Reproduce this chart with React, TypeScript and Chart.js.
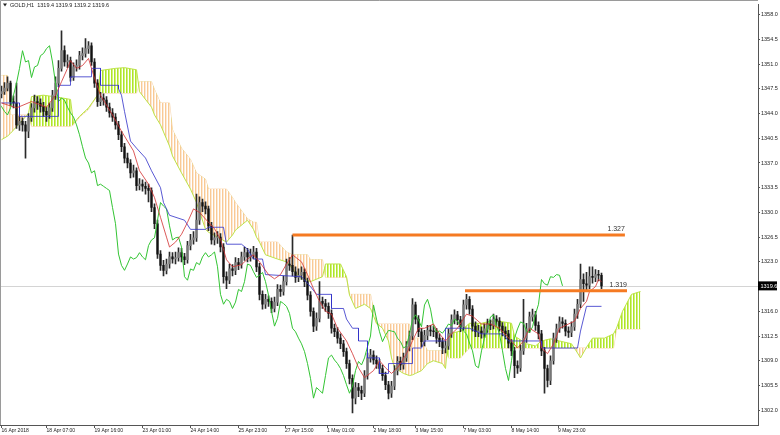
import React, { useEffect, useRef } from 'react';
import { Chart, registerables } from 'chart.js';

Chart.register(...registerables);

// ---- Candles (each candle = 2 H1 bars) ----
const opens = [
  1346.8, 1347.1, 1347.6, 1348.3, 1345.7, 1345.5, 1342.4, 1342.9, 1342.4, 1341.5,
  1343.4, 1344.8, 1345.7, 1345.5, 1345.0, 1344.3, 1343.8, 1344.8, 1346.6, 1348.3,
  1350.4, 1352.9, 1351.3, 1351.5, 1349.1, 1350.6, 1350.8, 1352.2, 1352.5, 1353.2,
  1353.6, 1351.3, 1348.3, 1345.7, 1346.2, 1345.9, 1344.9, 1344.1, 1343.5, 1342.4,
  1341.0, 1339.3, 1337.7, 1337.0, 1335.6, 1335.9, 1333.8, 1334.0, 1333.7, 1333.4,
  1333.1, 1330.7, 1328.4, 1324.1, 1322.5, 1321.8, 1322.7, 1323.7, 1323.4, 1323.6,
  1324.3, 1323.7, 1323.3, 1325.3, 1326.1, 1326.4, 1328.9, 1331.4, 1330.9, 1330.5,
  1328.1, 1326.1, 1326.4, 1326.5, 1325.1, 1320.9, 1320.4, 1322.0, 1321.8, 1322.9,
  1322.6, 1323.7, 1324.3, 1323.7, 1324.0, 1324.4, 1322.3, 1318.4, 1317.0, 1317.7,
  1317.4, 1316.4, 1317.3, 1319.1, 1318.8, 1320.2, 1322.7, 1322.5, 1321.6, 1320.8,
  1321.1, 1321.5, 1320.2, 1318.3, 1316.0, 1313.9, 1315.0, 1317.4, 1317.1, 1316.7,
  1315.7, 1313.6, 1313.1, 1312.2, 1311.4, 1310.3, 1308.6, 1306.5, 1303.7, 1305.2,
  1304.8, 1304.4, 1306.9, 1309.4, 1309.8, 1309.1, 1308.6, 1307.9, 1306.9, 1305.6,
  1304.4, 1305.4, 1307.6, 1308.9, 1308.4, 1309.4, 1311.0, 1312.5, 1316.9, 1314.9,
  1313.1, 1311.7, 1312.6, 1313.3, 1313.2, 1313.1, 1312.2, 1311.7, 1310.8, 1311.1,
  1312.8, 1314.8, 1315.5, 1314.8, 1313.8, 1316.9, 1317.7, 1316.3, 1313.9, 1313.1,
  1313.2, 1312.9, 1313.5, 1314.2, 1314.0, 1314.9, 1314.6, 1313.9, 1313.2, 1312.8,
  1311.5, 1310.4, 1308.3, 1308.0, 1310.4, 1312.2, 1313.5, 1315.2, 1315.5, 1314.0,
  1312.8, 1310.4, 1307.9, 1306.2, 1309.0, 1312.2, 1313.5, 1314.5, 1314.3, 1313.2,
  1313.0, 1313.8, 1315.6, 1317.0, 1320.5, 1319.9, 1319.7, 1320.9, 1320.8, 1321.2,
  1321.1,
];
const highs = [
  1347.9, 1348.4, 1349.2, 1348.6, 1346.5, 1348.3, 1343.6, 1343.4, 1342.9, 1344.0,
  1345.4, 1346.6, 1346.4, 1346.1, 1345.6, 1344.9, 1345.5, 1347.3, 1349.2, 1351.5,
  1355.7, 1353.6, 1352.3, 1352.0, 1351.2, 1351.6, 1352.8, 1353.3, 1354.6, 1354.2,
  1354.0, 1351.8, 1348.8, 1347.0, 1346.8, 1346.4, 1345.5, 1344.7, 1344.0, 1342.9,
  1341.5, 1339.8, 1338.4, 1337.5, 1336.7, 1336.3, 1334.8, 1334.6, 1334.3, 1334.0,
  1333.5, 1331.2, 1328.9, 1324.6, 1323.2, 1323.4, 1324.4, 1324.3, 1324.4, 1325.0,
  1324.9, 1324.2, 1325.9, 1326.9, 1327.3, 1332.6, 1332.2, 1331.9, 1331.5, 1330.9,
  1328.6, 1327.1, 1327.3, 1327.0, 1325.6, 1321.6, 1322.7, 1322.6, 1323.6, 1323.5,
  1324.4, 1325.1, 1324.9, 1324.8, 1325.2, 1324.9, 1322.8, 1318.9, 1318.4, 1318.2,
  1317.9, 1318.0, 1319.8, 1319.7, 1321.0, 1323.4, 1323.6, 1326.8, 1322.3, 1322.0,
  1322.3, 1322.0, 1320.7, 1318.8, 1316.5, 1315.8, 1320.2, 1318.0, 1317.7, 1317.2,
  1316.2, 1314.2, 1313.7, 1312.8, 1311.9, 1310.8, 1309.1, 1307.0, 1305.9, 1305.8,
  1305.4, 1307.6, 1310.1, 1310.6, 1310.4, 1309.7, 1309.2, 1308.4, 1307.4, 1306.1,
  1306.1, 1308.3, 1309.6, 1309.5, 1310.1, 1311.7, 1313.2, 1317.8, 1317.3, 1315.4,
  1313.6, 1313.3, 1314.0, 1314.0, 1313.9, 1313.6, 1312.8, 1312.2, 1311.8, 1313.5,
  1315.5, 1316.2, 1316.0, 1315.3, 1317.6, 1318.4, 1318.1, 1316.8, 1314.5, 1314.0,
  1313.8, 1314.2, 1314.9, 1314.8, 1315.6, 1315.4, 1315.1, 1314.4, 1313.8, 1313.3,
  1312.0, 1310.9, 1309.0, 1311.2, 1317.7, 1314.3, 1315.9, 1316.3, 1316.0, 1314.5,
  1313.3, 1310.9, 1308.4, 1309.7, 1312.9, 1314.2, 1315.2, 1315.1, 1314.8, 1313.8,
  1314.5, 1316.3, 1317.7, 1322.7, 1321.3, 1321.5, 1322.3, 1322.3, 1321.9, 1321.8,
  1321.4,
];
const lows = [
  1346.2, 1346.7, 1347.2, 1345.1, 1344.8, 1341.9, 1341.6, 1341.5, 1337.7, 1340.6,
  1342.9, 1344.2, 1344.6, 1344.2, 1343.6, 1342.9, 1343.3, 1344.3, 1346.0, 1347.8,
  1350.0, 1350.7, 1350.5, 1348.6, 1348.7, 1350.0, 1350.3, 1351.6, 1352.0, 1352.5,
  1350.8, 1347.7, 1345.0, 1345.1, 1345.2, 1344.3, 1343.5, 1342.9, 1341.8, 1340.3,
  1338.6, 1337.0, 1336.3, 1334.9, 1335.0, 1333.1, 1333.2, 1333.0, 1332.6, 1331.5,
  1330.1, 1327.7, 1323.5, 1321.8, 1321.0, 1321.3, 1322.1, 1322.8, 1322.7, 1323.1,
  1323.0, 1322.6, 1322.8, 1324.7, 1325.5, 1325.9, 1328.3, 1330.1, 1329.8, 1327.4,
  1325.5, 1325.4, 1325.6, 1324.4, 1320.0, 1319.2, 1319.9, 1321.0, 1321.2, 1321.9,
  1322.1, 1323.2, 1323.0, 1323.1, 1323.4, 1321.6, 1317.6, 1316.3, 1316.4, 1316.7,
  1315.8, 1315.9, 1316.8, 1318.1, 1318.3, 1319.7, 1321.8, 1321.0, 1320.1, 1320.2,
  1320.5, 1319.5, 1317.6, 1315.3, 1313.1, 1313.3, 1314.5, 1316.4, 1316.0, 1315.0,
  1312.9, 1312.4, 1311.5, 1310.7, 1309.6, 1307.9, 1305.7, 1301.6, 1302.9, 1303.9,
  1303.5, 1303.9, 1306.4, 1308.8, 1308.5, 1307.9, 1307.2, 1306.2, 1304.9, 1303.6,
  1303.8, 1304.9, 1307.0, 1307.7, 1307.8, 1308.9, 1310.4, 1312.0, 1314.2, 1312.4,
  1311.0, 1311.1, 1312.0, 1312.5, 1312.4, 1311.5, 1311.0, 1310.0, 1310.1, 1310.6,
  1312.3, 1314.2, 1314.1, 1313.1, 1313.3, 1316.3, 1315.6, 1313.2, 1312.4, 1312.4,
  1312.2, 1312.3, 1313.0, 1313.4, 1313.5, 1314.0, 1313.2, 1312.5, 1312.1, 1310.8,
  1309.7, 1306.6, 1307.2, 1307.5, 1309.9, 1311.6, 1313.0, 1314.6, 1313.3, 1312.1,
  1309.7, 1304.4, 1305.3, 1305.6, 1308.5, 1311.6, 1313.0, 1313.6, 1312.5, 1312.3,
  1312.4, 1313.3, 1315.0, 1316.5, 1317.4, 1318.9, 1319.2, 1320.0, 1320.2, 1320.3,
  1319.2,
];
const closes = [
  1347.1, 1347.6, 1348.3, 1345.7, 1345.5, 1342.4, 1342.9, 1342.4, 1341.5, 1343.4,
  1344.8, 1345.7, 1345.5, 1345.0, 1344.3, 1343.8, 1344.8, 1346.6, 1348.3, 1350.4,
  1352.9, 1351.3, 1351.5, 1349.1, 1350.6, 1350.8, 1352.2, 1352.5, 1353.2, 1353.6,
  1351.3, 1348.3, 1345.7, 1346.2, 1345.9, 1344.9, 1344.1, 1343.5, 1342.4, 1341.0,
  1339.3, 1337.7, 1337.0, 1335.6, 1335.9, 1333.8, 1334.0, 1333.7, 1333.4, 1333.1,
  1330.7, 1328.4, 1324.1, 1322.5, 1321.8, 1322.7, 1323.7, 1323.4, 1323.6, 1324.3,
  1323.7, 1323.3, 1325.3, 1326.1, 1326.4, 1328.9, 1331.4, 1330.9, 1330.5, 1328.1,
  1326.1, 1326.4, 1326.5, 1325.1, 1320.9, 1320.4, 1322.0, 1321.8, 1322.9, 1322.6,
  1323.7, 1324.3, 1323.7, 1324.0, 1324.4, 1322.3, 1318.4, 1317.0, 1317.7, 1317.4,
  1316.4, 1317.3, 1319.1, 1318.8, 1320.2, 1322.7, 1322.5, 1321.6, 1320.8, 1321.1,
  1321.5, 1320.2, 1318.3, 1316.0, 1313.9, 1315.0, 1317.4, 1317.1, 1316.7, 1315.7,
  1313.6, 1313.1, 1312.2, 1311.4, 1310.3, 1308.6, 1306.5, 1303.7, 1305.2, 1304.8,
  1304.4, 1306.9, 1309.4, 1309.8, 1309.1, 1308.6, 1307.9, 1306.9, 1305.6, 1304.4,
  1305.4, 1307.6, 1308.9, 1308.4, 1309.4, 1311.0, 1312.5, 1316.9, 1314.9, 1313.1,
  1311.7, 1312.6, 1313.3, 1313.2, 1313.1, 1312.2, 1311.7, 1310.8, 1311.1, 1312.8,
  1314.8, 1315.5, 1314.8, 1313.8, 1316.9, 1317.7, 1316.3, 1313.9, 1313.1, 1313.2,
  1312.9, 1313.5, 1314.2, 1314.0, 1314.9, 1314.6, 1313.9, 1313.2, 1312.8, 1311.5,
  1310.4, 1308.3, 1308.0, 1310.4, 1312.2, 1313.5, 1315.2, 1315.5, 1314.0, 1312.8,
  1310.4, 1307.9, 1306.2, 1309.0, 1312.2, 1313.5, 1314.5, 1314.3, 1313.2, 1313.0,
  1313.8, 1315.6, 1317.0, 1320.5, 1319.9, 1319.7, 1320.9, 1320.8, 1321.2, 1321.1,
  1319.6,
];

// ---- Ichimoku lines: [candle index, price] ----
const tenkan: [number, number][] = [
  [0, 1345.5], [5, 1344.8], [10, 1345.7], [15, 1344.9], [18, 1346.6], [20, 1348.5], [22, 1350.4],
  [23, 1351.5], [25, 1350.4], [27, 1350.8], [29, 1351.8], [31, 1349.0], [33, 1346.6], [35, 1345.2],
  [37, 1343.8], [40, 1341.5], [42, 1340.1], [44, 1338.7], [46, 1335.9], [49, 1334.0], [51, 1332.1],
  [53, 1329.3], [55, 1326.5], [56, 1325.1], [58, 1325.8], [60, 1326.9], [62, 1328.6], [64, 1330.5],
  [66, 1330.0], [69, 1328.6], [71, 1327.7], [73, 1326.2], [75, 1323.3], [77, 1322.3], [80, 1322.6],
  [82, 1323.4], [84, 1324.0], [86, 1323.0], [89, 1321.2], [91, 1320.6], [93, 1321.2], [95, 1322.7],
  [97, 1324.0], [100, 1323.0], [102, 1321.2], [104, 1319.2], [106, 1317.4], [108, 1316.0], [110, 1315.6],
  [112, 1313.6], [115, 1311.8], [117, 1310.0], [119, 1308.0], [121, 1306.6], [124, 1307.6], [126, 1309.0],
  [128, 1308.0], [130, 1307.2], [132, 1308.0], [135, 1310.0], [137, 1311.8], [139, 1313.6], [141, 1313.6],
  [144, 1314.2], [146, 1312.8], [148, 1311.8], [150, 1312.8], [152, 1313.6], [155, 1315.6], [157, 1315.3],
  [160, 1314.2], [163, 1314.2], [166, 1313.6], [170, 1311.8], [172, 1310.8], [174, 1311.8], [176, 1313.6],
  [179, 1312.8], [180, 1310.8], [182, 1310.0], [184, 1311.4], [186, 1313.6], [189, 1314.2], [191, 1314.6],
  [193, 1316.4], [195, 1317.4], [196, 1318.8], [198, 1319.5], [199, 1320.5], [200, 1320.2],
];
const kijun: [number, number][] = [
  [0, 1345.5], [6, 1345.5], [6, 1343.6], [19, 1343.6], [19, 1348.0], [23, 1348.0], [23, 1349.2],
  [30, 1349.2], [30, 1350.4], [33, 1350.4], [33, 1348.0], [39, 1348.0], [39, 1347.5], [40, 1346.6],
  [41, 1344.3], [43, 1340.1], [45, 1339.1], [48, 1337.7], [50, 1335.9], [53, 1333.5], [54, 1331.4],
  [56, 1329.6], [61, 1328.9], [63, 1327.6], [68, 1327.6], [69, 1327.9], [74, 1327.9], [75, 1325.5],
  [80, 1325.5], [82, 1324.8], [84, 1323.4], [87, 1323.4], [88, 1321.2], [100, 1320.9], [103, 1319.5],
  [105, 1318.4], [110, 1318.4], [110, 1316.4], [114, 1316.4], [115, 1314.9], [117, 1313.6], [119, 1313.6],
  [119, 1311.8], [122, 1311.8], [122, 1309.4], [126, 1309.4], [126, 1307.2], [129, 1307.2], [129, 1308.6],
  [137, 1308.6], [137, 1310.8], [140, 1310.8], [141, 1311.8], [148, 1311.8], [148, 1313.6], [156, 1313.6],
  [160, 1312.8], [167, 1312.8], [169, 1311.8], [180, 1311.8], [180, 1310.8], [192, 1310.8], [193, 1313.2],
  [195, 1316.7], [200, 1316.7],
];
const chikouShift = 13;

// ---- Kumo (shifted forward) ----
const cloudBars = [
  0, 2, 3, 6, 9, 10, 14, 19, 23, 24, 26, 29, 32, 33, 38, 41, 45, 46, 50, 51, 53, 56, 57, 60, 63, 65,
  68, 69, 75, 77, 78, 82, 84, 85, 86, 88, 92, 95, 97, 100, 102, 103, 107, 108, 113, 115, 116, 118,
  121, 123, 125, 127, 129, 130, 131, 134, 136, 137, 138, 140, 142, 144, 147, 148, 149, 153, 156, 160,
  163, 166, 170, 171, 175, 178, 180, 183, 186, 190, 192, 193, 195, 197, 201, 204, 205, 207, 210, 213,
];
const spanA = [
  1340.3, 1340.8, 1341.2, 1342.6, 1344.0, 1346.4, 1346.6, 1346.3, 1346.0, 1342.6, 1343.6, 1344.8,
  1346.6, 1350.1, 1350.4, 1350.5, 1350.2, 1347.1, 1344.9, 1343.8, 1342.4, 1339.4, 1338.0, 1335.6,
  1333.3, 1331.4, 1327.6, 1327.2, 1325.8, 1326.8, 1327.5, 1328.9, 1327.6, 1326.5, 1325.8, 1324.0,
  1323.4, 1323.0, 1322.0, 1320.6, 1320.4, 1320.2, 1320.9, 1322.7, 1322.7, 1320.9, 1318.3, 1316.4,
  1317.0, 1316.4, 1314.3, 1313.6, 1311.8, 1309.4, 1308.0, 1307.2, 1306.9, 1307.0, 1307.2, 1307.6,
  1308.6, 1309.0, 1308.6, 1307.9, 1312.8, 1313.2, 1314.3, 1314.3, 1314.6, 1314.6, 1314.3, 1312.5,
  1311.4, 1311.1, 1311.8, 1312.1, 1311.8, 1311.4, 1310.1, 1309.4, 1310.9, 1312.2, 1312.2, 1312.8,
  1313.6, 1316.0, 1318.4, 1318.8,
];
const spanB = [
  1349.4, 1349.4, 1343.8, 1343.8, 1343.8, 1342.2, 1342.2, 1342.2, 1342.2, 1342.4, 1343.5, 1344.6,
  1346.6, 1346.9, 1346.9, 1346.9, 1346.9, 1348.5, 1348.5, 1347.4, 1345.5, 1345.5, 1341.7, 1339.1,
  1337.5, 1335.6, 1334.7, 1333.3, 1333.3, 1332.1, 1331.4, 1329.1, 1328.6, 1328.6, 1325.8, 1325.8,
  1325.8, 1324.4, 1324.0, 1324.0, 1324.0, 1323.3, 1323.3, 1320.8, 1320.8, 1320.8, 1318.4, 1318.4,
  1318.4, 1318.4, 1314.2, 1314.2, 1314.2, 1314.2, 1314.2, 1314.2, 1314.2, 1312.2, 1312.2, 1312.2,
  1310.4, 1310.4, 1310.4, 1310.4, 1309.4, 1309.4, 1310.8, 1310.8, 1310.8, 1310.8, 1310.8, 1310.8,
  1310.8, 1310.8, 1310.8, 1310.8, 1310.8, 1310.8, 1310.8, 1310.8, 1310.8, 1310.8, 1310.8, 1310.8,
  1313.5, 1313.5, 1313.5, 1313.5,
];

// ---- Horizontal levels ----
const levelValues = [1326.8, 1318.9];
const levelFrom = [97, 154.5];
const levelTo = [207.8, 208.5];
const levelLabels = ['1.327', '1.319'];

// ---- Axes ----
const yTickValues = [
  1358.0, 1354.5, 1351.0, 1347.5, 1344.0, 1340.5, 1337.0, 1333.5, 1330.0, 1326.5, 1323.0,
  1316.0, 1312.5, 1309.0, 1305.5, 1302.0,
];
const xTickBars = [0, 15, 31, 47, 63, 79, 94.5, 108.5, 124, 138, 154, 170, 185.5];
const xTickLabels = [
  '16 Apr 2018', '18 Apr 07:00', '19 Apr 16:00', '23 Apr 01:00', '24 Apr 14:00', '25 Apr 23:00',
  '27 Apr 15:00', '1 May 01:00', '2 May 18:00', '3 May 15:00', '7 May 03:00', '8 May 14:00',
  '9 May 23:00',
];
const lastPrice = 1319.6;
const titleText = 'GOLD,H1  1319.4 1319.9 1319.2 1319.6';

const FONT = '"Liberation Sans", Arial, sans-serif';

export default function App() {
  const ref = useRef<HTMLCanvasElement>(null);

  useEffect(() => {
    document.body.style.margin = '0';
    const canvas = ref.current as HTMLCanvasElement;
    const ctx2d = canvas.getContext('2d') as CanvasRenderingContext2D;

    const hatch = (cols: string[]) => {
      const c = document.createElement('canvas');
      c.width = cols.length;
      c.height = 1;
      const g = c.getContext('2d') as CanvasRenderingContext2D;
      cols.forEach((col, k) => {
        g.fillStyle = col;
        g.fillRect(k, 0, 1, 1);
      });
      return ctx2d.createPattern(c, 'repeat') as CanvasPattern;
    };
    const greenHatch = hatch(['#ade42a', '#d3f27a', '#ffffff']);
    const orangeHatch = hatch(['#f9c995', '#fde9d4', '#ffffff']);

    const overlay = {
      id: 'mt4overlay',
      beforeDraw(chart: any) {
        const c = chart.ctx;
        c.save();
        c.fillStyle = '#ffffff';
        c.fillRect(0, 0, chart.width, chart.height);
        c.restore();
      },
      beforeDatasetsDraw(chart: any) {
        const c = chart.ctx;
        const a = chart.chartArea;
        const y = Math.round(chart.scales.y.getPixelForValue(lastPrice)) + 0.5;
        c.save();
        c.strokeStyle = '#d4d4d4';
        c.lineWidth = 1;
        c.beginPath();
        c.moveTo(a.left, y);
        c.lineTo(a.right, y);
        c.stroke();
        c.restore();
      },
      afterDraw(chart: any) {
        const c = chart.ctx;
        const a = chart.chartArea;
        const xs = chart.scales.x;
        const ys = chart.scales.y;
        c.save();
        // frame
        c.strokeStyle = '#9a9a9a';
        c.lineWidth = 1;
        c.beginPath();
        c.moveTo(0.5, a.bottom);
        c.lineTo(0.5, 0.5);
        c.lineTo(a.right, 0.5);
        c.stroke();
        // title
        c.fillStyle = '#222';
        c.beginPath();
        c.moveTo(3, 3.5);
        c.lineTo(7, 3.5);
        c.lineTo(5, 6.5);
        c.closePath();
        c.fill();
        c.font = `5.5px ${FONT}`;
        c.textBaseline = 'middle';
        c.textAlign = 'left';
        c.fillText(titleText, 10, 5.5);
        // level labels
        c.font = `7px ${FONT}`;
        c.fillStyle = '#333';
        c.textAlign = 'right';
        c.textBaseline = 'bottom';
        levelLabels.forEach((lab, k) => {
          const px = xs.getPixelForValue(levelTo[k]);
          const py = ys.getPixelForValue(levelValues[k]);
          c.fillText(lab, px, py - 2);
        });
        // price box on axis
        const py = ys.getPixelForValue(lastPrice);
        c.fillStyle = '#000';
        c.fillRect(a.right, py - 4.5, 19, 9);
        c.fillStyle = '#fff';
        c.font = `5.5px ${FONT}`;
        c.textAlign = 'left';
        c.textBaseline = 'middle';
        c.fillText(lastPrice.toFixed(1), a.right + 2.5, py + 0.5);
        c.restore();
      },
    };

    const line = (label: string, pts: { x: number; y: number }[], color: string, width: number, order: number, extra: any = {}) => ({
      type: 'line' as const,
      label,
      data: pts,
      borderColor: color,
      borderWidth: width,
      pointRadius: 0,
      tension: 0,
      fill: false,
      order,
      ...extra,
    });

    const datasets: any[] = [
      line('Senkou A', cloudBars.map((b, k) => ({ x: b, y: spanA[k] })), '#bde448', 1, 20, {
        fill: { target: 1, above: greenHatch, below: orangeHatch },
      }),
      line('Senkou B', cloudBars.map((b, k) => ({ x: b, y: spanB[k] })), '#f9d6ae', 1, 21),
      {
        type: 'bar',
        label: 'wicks',
        data: closes.map((_, i) => ({ x: i, y: [lows[i], highs[i]] })),
        backgroundColor: '#2a2a2a',
        barThickness: 1,
        grouped: false,
        order: 11,
      },
      {
        type: 'bar',
        label: 'bodies',
        data: closes.map((c, i) => ({ x: i, y: [opens[i], c] })),
        backgroundColor: (ctx: any) =>
          closes[ctx.dataIndex] >= opens[ctx.dataIndex] ? '#777777' : '#111111',
        barThickness: 1.6,
        minBarLength: 1,
        grouped: false,
        order: 10,
      },
      line('Chikou', closes.map((c, i) => ({ x: i - chikouShift, y: c })), '#33c433', 1, 4),
      line('Kijun', kijun.map(([x, y]) => ({ x, y })), 'rgba(50,50,200,0.9)', 0.9, 3),
      line('Tenkan', tenkan.map(([x, y]) => ({ x, y })), 'rgba(210,50,50,0.9)', 0.9, 2),
      ...levelValues.map((v, k) =>
        line(levelLabels[k], [{ x: levelFrom[k], y: v }, { x: levelTo[k], y: v }], '#f57a22', 3, 1, {
          borderCapStyle: 'butt',
        })
      ),
    ];

    Chart.defaults.font.family = FONT;

    const chart = new Chart(canvas, {
      type: 'bar',
      data: { datasets },
      options: {
        animation: false,
        responsive: false,
        devicePixelRatio: 1,
        events: [],
        layout: { padding: 0 },
        plugins: {
          legend: { display: false },
          tooltip: { enabled: false },
        },
        scales: {
          x: {
            type: 'linear',
            min: -0.5,
            max: -0.5 + 758 / 3,
            offset: false,
            grid: { display: true, drawOnChartArea: false, drawTicks: true, tickLength: 3, color: '#555', offset: false },
            border: { display: true, color: '#555' },
            ticks: {
              autoSkip: false,
              maxRotation: 0,
              minRotation: 0,
              align: 'start',
              padding: 0,
              color: '#222',
              font: { size: 5, family: FONT },
              callback: (_v: any, i: number) => xTickLabels[i],
            },
            afterBuildTicks: (s: any) => {
              s.ticks = xTickBars.map((v) => ({ value: v }));
            },
            afterFit: (s: any) => {
              s.height = 10;
            },
          },
          y: {
            type: 'linear',
            position: 'right',
            min: 1299.9,
            max: 1359.47,
            grid: { display: true, drawOnChartArea: false, drawTicks: true, tickLength: 2, color: '#555' },
            border: { display: true, color: '#555' },
            ticks: {
              padding: 1,
              color: '#222',
              font: { size: 5.5, family: FONT },
              callback: (v: any) => Number(v).toFixed(1),
            },
            afterBuildTicks: (s: any) => {
              s.ticks = yTickValues.map((v) => ({ value: v }));
            },
            afterFit: (s: any) => {
              s.width = 22;
            },
          },
        },
      } as any,
      plugins: [overlay],
    });

    return () => chart.destroy();
  }, []);

  return (
    <div style={{ width: 780, height: 435 }}>
      <canvas ref={ref} width={780} height={435} style={{ display: 'block' }} />
    </div>
  );
}
